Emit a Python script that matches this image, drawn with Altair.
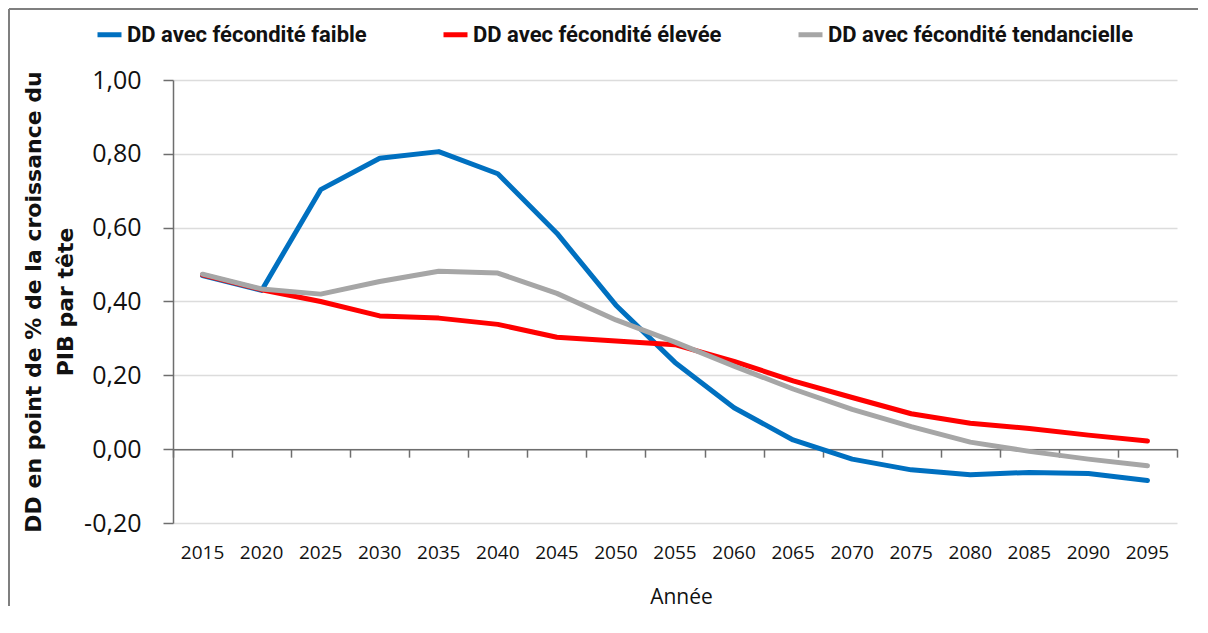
import altair as alt
import pandas as pd

years = ["2015", "2020", "2025", "2030", "2035", "2040", "2045", "2050", "2055",
         "2060", "2065", "2070", "2075", "2080", "2085", "2090", "2095"]
faible = [0.47, 0.43, 0.703, 0.788, 0.806, 0.746, 0.585, 0.39, 0.235, 0.112,
          0.025, -0.027, -0.056, -0.069, -0.063, -0.066, -0.085]
elevee = [0.472, 0.432, 0.40, 0.361, 0.355, 0.338, 0.303, 0.293, 0.283, 0.238,
          0.185, 0.14, 0.096, 0.07, 0.056, 0.038, 0.022]
tendancielle = [0.474, 0.434, 0.42, 0.454, 0.482, 0.477, 0.422, 0.35, 0.29, 0.225,
                0.163, 0.108, 0.061, 0.019, -0.006, -0.027, -0.045]
series = ["DD avec fécondité faible", "DD avec fécondité élevée",
          "DD avec fécondité tendancielle"]
colors = ["#0070C0", "#FF0000", "#A6A6A6"]
y_ticks = [-0.2, 0.0, 0.2, 0.4, 0.6, 0.8, 1.0]

rows = []
for name, vals in zip(series, [faible, elevee, tendancielle]):
    for yr, v in zip(years, vals):
        rows.append({"annee": yr, "valeur": v, "serie": name})
df = pd.DataFrame(rows)

W, H = 1004, 443
PAD_L, PAD_T = 165, 72
TOTAL_W, TOTAL_H = 1190, 598
PAD_R = TOTAL_W - PAD_L - W
PAD_B = TOTAL_H - PAD_T - H
ymin, ymax = -0.2, 1.0
zero_offset = -H * (0 - ymin) / (ymax - ymin)

xscale = alt.Scale(type="band", paddingInner=0, paddingOuter=0)
yscale = alt.Scale(domain=[ymin, ymax], nice=False, zero=False)

frame_df = pd.DataFrame({"k": [0]})
top_rule = alt.Chart(frame_df).mark_rule(color="#7f7f7f", strokeWidth=2).encode(
    x=alt.value(-164), x2=alt.value(W + PAD_R), y=alt.value(-71))
left_rule = alt.Chart(frame_df).mark_rule(color="#7f7f7f", strokeWidth=2).encode(
    x=alt.value(-164), y=alt.value(-71), y2=alt.value(H + PAD_B))

lines = alt.Chart(df).mark_line(strokeWidth=5, strokeCap="round", strokeJoin="round").encode(
    x=alt.X("annee:O", sort=years, scale=xscale,
            axis=alt.Axis(orient="bottom", title="Année", domain=False, ticks=False,
                          grid=False, labelAngle=0, labelPadding=20,
                          labelFont="Open Sans", labelFontSize=19, labelColor="#111111",
                          titleFont="Open Sans", titleFontSize=21, titleFontWeight="normal",
                          titleColor="#111111", titlePadding=24, titleX=508)),
    y=alt.Y("valeur:Q", scale=yscale,
            axis=alt.Axis(values=y_ticks, domain=True, domainColor="#6e6e6e", domainWidth=1.5,
                          ticks=True, tickSize=10, tickColor="#6e6e6e", tickWidth=1.5,
                          grid=True, gridColor="#dcdcdc", gridWidth=1.5,
                          labelExpr="replace(replace(format(datum.value, '.2f'), '.', ','), '\u2212', '-')",
                          labelFont="Open Sans", labelFontSize=25, labelColor="#111111",
                          labelPadding=22,
                          title=["DD en point de % de la croissance du", "PIB par tête"],
                          titleFont="DejaVu Sans", titleFontWeight="bold", titleFontSize=22,
                          titleLineHeight=32, titleColor="#111111", titlePadding=6)),
    color=alt.Color("serie:N", sort=series, scale=alt.Scale(domain=series, range=colors),
                    legend=alt.Legend(title=None, orient="none", legendX=-78, legendY=-60,
                                      direction="horizontal", symbolType="stroke",
                                      symbolSize=576, symbolStrokeWidth=5,
                                      labelFont="Roboto", labelFontSize=22,
                                      labelFontWeight="bold", labelColor="#111111",
                                      labelOffset=3, columnPadding=66, padding=0,
                                      labelLimit=500)),
)

zero_axis = alt.Chart(df).mark_line(opacity=0).encode(
    x=alt.X("annee:O", sort=years, scale=xscale,
            axis=alt.Axis(orient="bottom", offset=zero_offset, labels=False, title=None,
                          domain=True, domainColor="#6e6e6e", domainWidth=1.5,
                          ticks=True, tickBand="extent", tickSize=8, tickColor="#6e6e6e",
                          tickWidth=1.5, grid=False)),
    y=alt.Y("valeur:Q", scale=yscale),
    detail="serie:N",
)

chart = alt.layer(top_rule, left_rule, lines, zero_axis).resolve_axis(
    x="independent"
).properties(
    width=W, height=H, background="white",
    autosize=alt.AutoSizeParams(type="none"),
    padding={"left": PAD_L, "top": PAD_T, "right": PAD_R, "bottom": PAD_B},
).configure_view(strokeWidth=0)

chart.save("out.html", embed_options={"renderer": "svg", "actions": False})
